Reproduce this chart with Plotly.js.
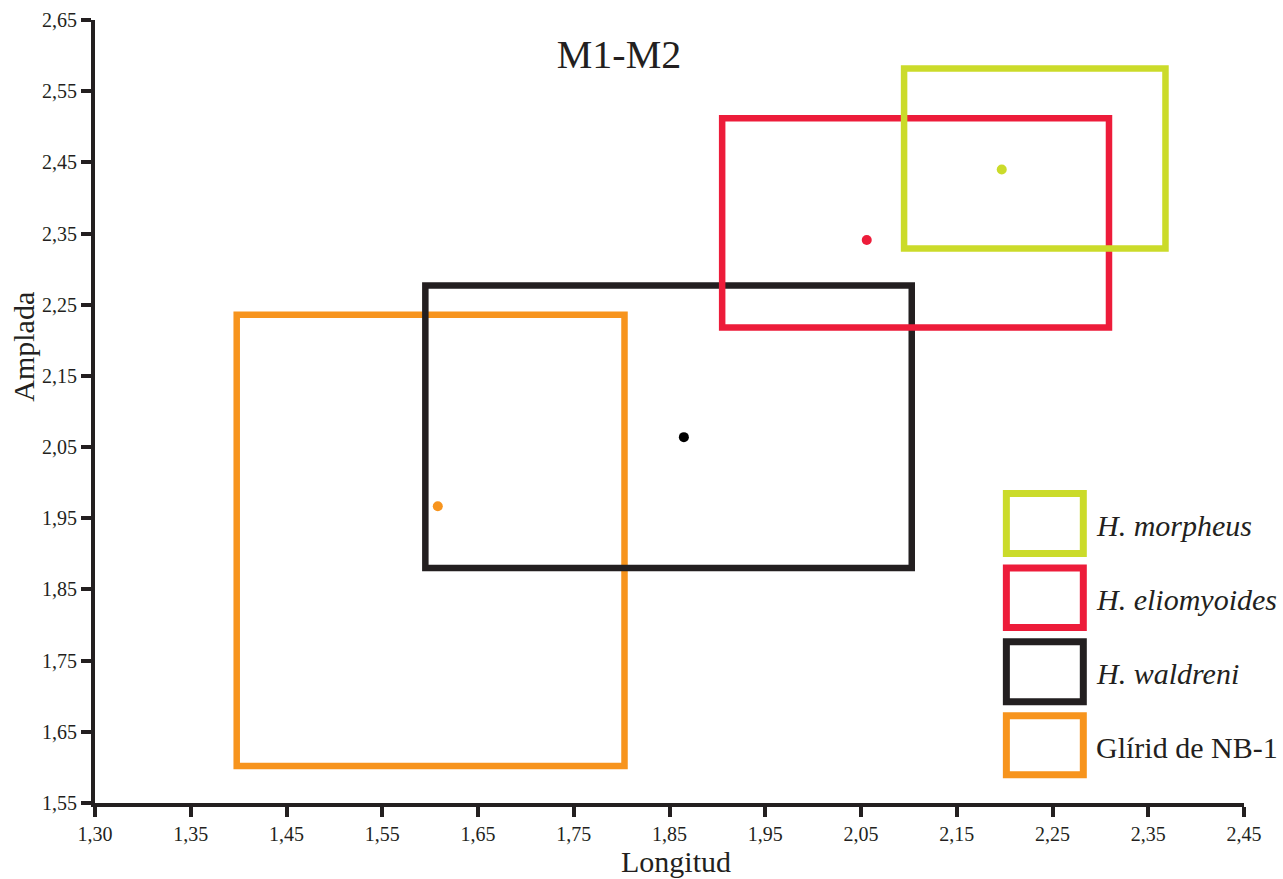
<!DOCTYPE html>
<html>
<head>
<meta charset="utf-8">
<script src="https://cdn.plot.ly/plotly-3.0.1.min.js"></script>
<style>html,body{margin:0;padding:0;background:#fff;}#chart{width:1283px;height:879px;}</style>
</head>
<body>
<div id="chart"></div>
<script>
// ---- data ----
const groups = ['H. morpheus', 'H. eliomyoides', 'H. waldreni', 'Glírid de NB-1'];
const italicNames = [true, true, true, false];
const colors = ['#cbdb2a', '#ed1c3a', '#231f20', '#f7941d'];
const dotColors = ['#cbdb2a', '#ed1c3a', '#000000', '#f7941d'];
const xMin = [2.095, 1.905, 1.595, 1.398];
const xMax = [2.368, 2.309, 2.103, 1.803];
const yMin = [2.329, 2.218, 1.880, 1.602];
const yMax = [2.582, 2.512, 2.277, 2.236];
const xMean = [2.197, 2.056, 1.865, 1.608];
const yMean = [2.440, 2.341, 2.064, 1.967];
const xTickVals = [1.25, 1.35, 1.45, 1.55, 1.65, 1.75, 1.85, 1.95, 2.05, 2.15, 2.25, 2.35, 2.45];
const xTickText = ['1,30', '1,35', '1,45', '1,55', '1,65', '1,75', '1,85', '1,95', '2,05', '2,15', '2,25', '2,35', '2,45'];
const yTickVals = [1.55, 1.65, 1.75, 1.85, 1.95, 2.05, 2.15, 2.25, 2.35, 2.45, 2.55, 2.65];
const yTickText = ['1,55', '1,65', '1,75', '1,85', '1,95', '2,05', '2,15', '2,25', '2,35', '2,45', '2,55', '2,65'];
const xTitle = 'Longitud';
const yTitle = 'Amplada';
const chartTitle = 'M1-M2';

// ---- layout geometry ----
const W = 1283, H = 879;
const M = {l: 94.5, r: 38.7, t: 19.5, b: 75.7};
const plotW = W - M.l - M.r, plotH = H - M.t - M.b;
const px2x = px => (px - M.l) / plotW;
const py2y = py => (H - M.b - py) / plotH;
const ink = '#231f20';
const serif = '"Liberation Serif", "Times New Roman", serif';

const traces = [];
// draw bottom to top: orange, black, red, green
for (let i = groups.length - 1; i >= 0; i--) {
  traces.push({
    type: 'scatter', mode: 'lines',
    x: [xMin[i], xMax[i], xMax[i], xMin[i], xMin[i], xMax[i]],
    y: [yMin[i], yMin[i], yMax[i], yMax[i], yMin[i], yMin[i]],
    line: {color: colors[i], width: 6.5},
    name: groups[i], showlegend: false, hoverinfo: 'skip'
  });
}
for (let i = groups.length - 1; i >= 0; i--) {
  traces.push({
    type: 'scatter', mode: 'markers',
    x: [xMean[i]], y: [yMean[i]],
    marker: {color: dotColors[i], size: 10},
    name: groups[i], showlegend: false
  });
}

// ---- custom legend ----
const legRows = [[493.5, 553.5], [568, 627.5], [642, 702], [716, 775]];
const shapes = [];
const annotations = [];
groups.forEach((g, i) => {
  shapes.push({
    type: 'rect', xref: 'paper', yref: 'paper',
    x0: px2x(1006.5), x1: px2x(1083.5),
    y0: py2y(legRows[i][0]), y1: py2y(legRows[i][1]),
    line: {color: colors[i], width: 7}, fillcolor: 'rgba(0,0,0,0)'
  });
  annotations.push({
    xref: 'paper', yref: 'paper',
    x: px2x(1094), y: py2y((legRows[i][0] + legRows[i][1]) / 2 + 2),
    xanchor: 'left', yanchor: 'middle', showarrow: false,
    text: italicNames[i] ? '<i>' + g + '</i>' : g,
    font: {family: serif, size: 30, color: ink}
  });
});
// axis titles
annotations.push({
  xref: 'paper', yref: 'paper', x: px2x(676), y: py2y(862),
  xanchor: 'center', yanchor: 'middle', showarrow: false,
  text: xTitle, font: {family: serif, size: 30, color: ink}
});
annotations.push({
  xref: 'paper', yref: 'paper', x: px2x(23), y: py2y(347),
  xanchor: 'center', yanchor: 'middle', showarrow: false, textangle: -90,
  text: yTitle, font: {family: serif, size: 30, color: ink}
});

const layout = {
  width: W, height: H,
  margin: M,
  paper_bgcolor: '#ffffff', plot_bgcolor: '#ffffff',
  showlegend: false,
  font: {family: serif, color: ink},
  title: {
    text: chartTitle, x: 619 / W, xanchor: 'center', xref: 'container',
    y: 1 - 54 / H, yanchor: 'middle', yref: 'container',
    font: {family: serif, size: 40, color: ink}
  },
  xaxis: {
    range: [1.25, 2.45], showgrid: false, zeroline: false,
    showline: true, linecolor: ink, linewidth: 4,
    ticks: 'outside', ticklen: 10, tickwidth: 4, tickcolor: ink,
    tickmode: 'array', tickvals: xTickVals, ticktext: xTickText,
    tickfont: {family: serif, size: 20, color: ink},
    automargin: false, fixedrange: true
  },
  yaxis: {
    range: [1.55, 2.65], showgrid: false, zeroline: false,
    showline: true, linecolor: ink, linewidth: 4,
    ticks: 'outside', ticklen: 10, tickwidth: 4, tickcolor: ink,
    tickmode: 'array', tickvals: yTickVals, ticktext: yTickText,
    tickfont: {family: serif, size: 20, color: ink},
    automargin: false, fixedrange: true
  },
  shapes: shapes,
  annotations: annotations
};

Plotly.newPlot('chart', traces, layout, {displayModeBar: false, staticPlot: true});
</script>
</body>
</html>
